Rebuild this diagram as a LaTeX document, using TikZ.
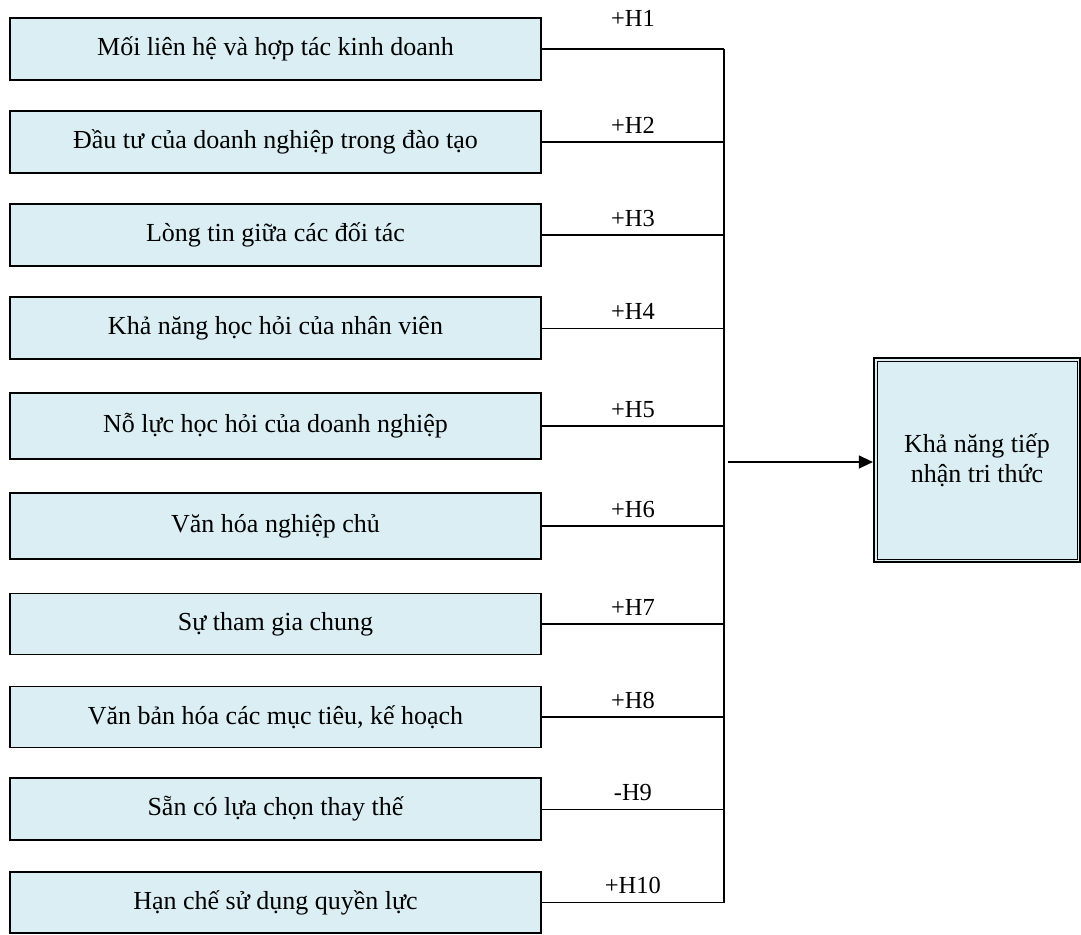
\documentclass[tikz,border=0pt]{standalone}
\usepackage{fontspec}
\setmainfont{Liberation Serif}
\usetikzlibrary{arrows.meta}
\definecolor{boxblue}{RGB}{218,238,243}
\tikzset{
  factor/.style={draw, line width=1.6pt, fill=boxblue, minimum width=531pt,
    inner sep=0pt, font=\fontsize{26}{30}\selectfont},
  outcome/.style={draw, line width=2.2pt, fill=boxblue, minimum width=206pt,
    minimum height=204pt, align=center, font=\fontsize{26}{30}\selectfont},
  link/.style={line width=1.5pt},
  thinlink/.style={line width=0.9pt},
  hlabel/.style={midway, above, inner sep=0pt, yshift=8pt,
    font=\fontsize{24.5}{30}\selectfont}
}
\begin{document}
\begin{tikzpicture}[x=1pt, y=-1pt]
    \useasboundingbox (0,0) rectangle (1081,934);
    % factor boxes
    \node[factor, minimum height=62pt] (f1) at (275.5,49) {Mối liên hệ và hợp tác kinh doanh};
    \node[factor, minimum height=62pt] (f2) at (275.5,142) {Đầu tư của doanh nghiệp trong đào tạo};
    \node[factor, minimum height=62pt] (f3) at (275.5,235) {Lòng tin giữa các đối tác};
    \node[factor, minimum height=62pt] (f4) at (275.5,328) {Khả năng học hỏi của nhân viên};
    \node[factor, minimum height=66pt] (f5) at (275.5,426) {Nỗ lực học hỏi của doanh nghiệp};
    \node[factor, minimum height=66pt] (f6) at (275.5,526) {Văn hóa nghiệp chủ};
    \node[factor, minimum height=61pt] (f7) at (275.5,624) {Sự tham gia chung};
    \node[factor, minimum height=61pt] (f8) at (275.5,717) {Văn bản hóa các mục tiêu, kế hoạch};
    \node[factor, minimum height=62pt] (f9) at (275.5,809) {Sẵn có lựa chọn thay thế};
    \node[factor, minimum height=61pt] (f10) at (275.5,902.5) {Hạn chế sử dụng quyền lực};
    % hypotheses
    \coordinate (bus) at (724,49);
    \draw[link] (f1.east) -- (f1.east -| bus) node[hlabel, yshift=14pt] (h1) {+H1};
    \draw[link] (f2.east) -- (f2.east -| bus) node[hlabel] (h2) {+H2};
    \draw[link] (f3.east) -- (f3.east -| bus) node[hlabel] (h3) {+H3};
    \draw[thinlink] (f4.east) -- (f4.east -| bus) node[hlabel] (h4) {+H4};
    \draw[link] (f5.east) -- (f5.east -| bus) node[hlabel] (h5) {+H5};
    \draw[link] (f6.east) -- (f6.east -| bus) node[hlabel] (h6) {+H6};
    \draw[link] (f7.east) -- (f7.east -| bus) node[hlabel] (h7) {+H7};
    \draw[link] (f8.east) -- (f8.east -| bus) node[hlabel] (h8) {+H8};
    \draw[thinlink] (f9.east) -- (f9.east -| bus) node[hlabel] (h9) {-H9};
    \draw[link] (f10.east) -- (f10.east -| bus) node[hlabel] (h10) {+H10};
    \draw[line width=1.7pt] (f1.east -| bus) -- (f10.east -| bus);
    % outcome
    \node[outcome] (kn) at (977,460) {Khả năng tiếp\\nhận tri thức};
    \draw[line width=0.8pt] ([xshift=4pt,yshift=-4pt]kn.north west) rectangle ([xshift=-4pt,yshift=4pt]kn.south east);
    \coordinate (hub) at (728,462);
    \draw[line width=1.2pt, -{Triangle[length=14pt,width=13pt]}] (hub) -- (hub -| kn.west);
\end{tikzpicture}
\end{document}
